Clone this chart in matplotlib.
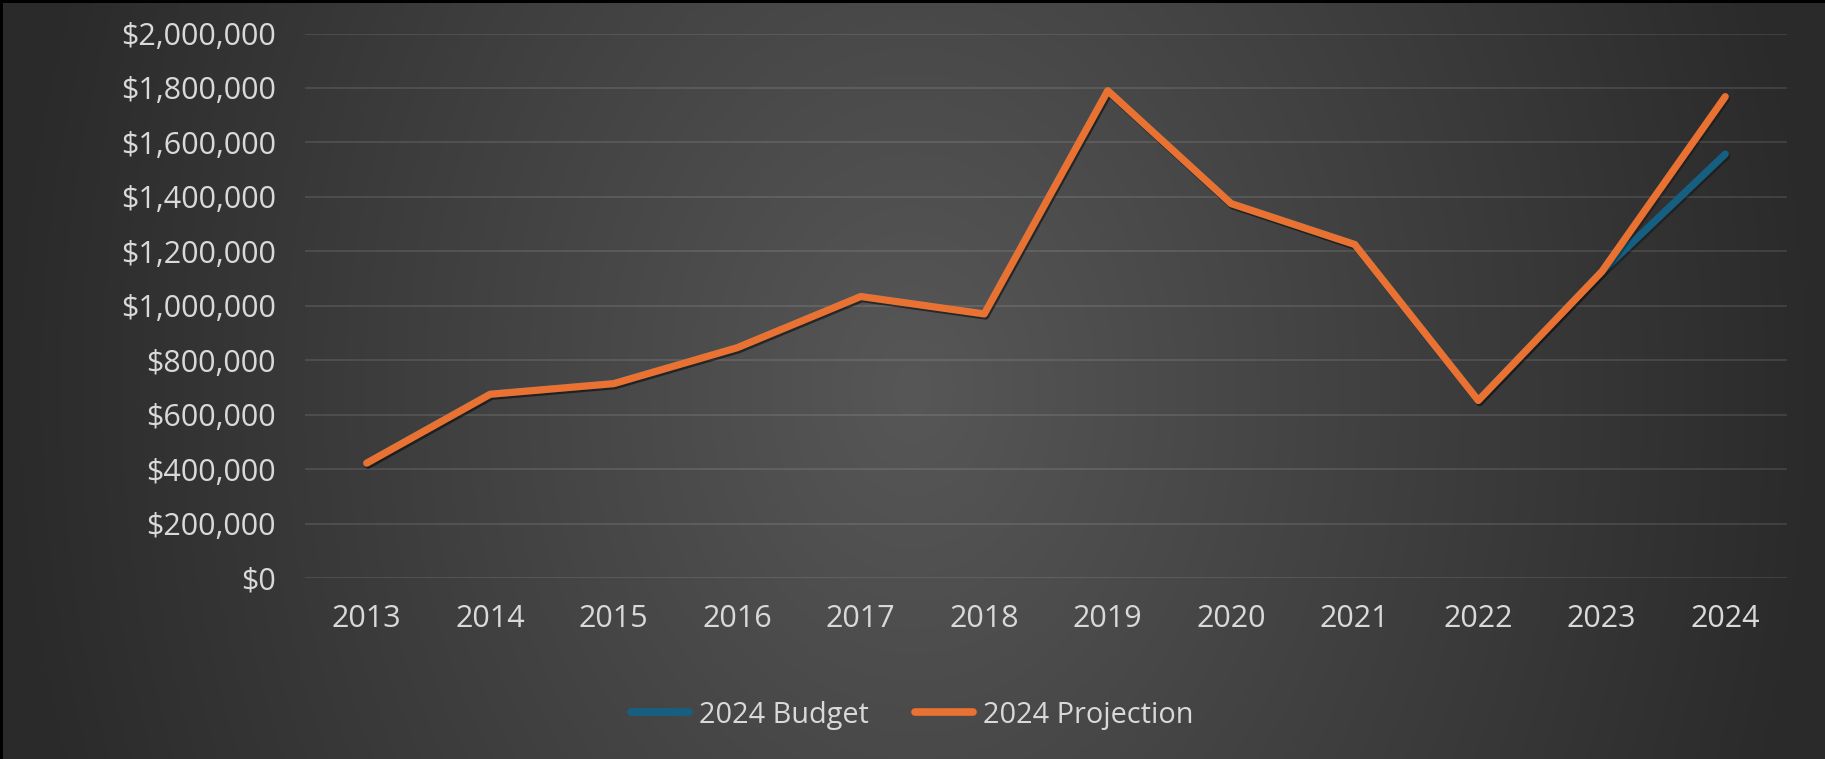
import numpy as np
import matplotlib
matplotlib.use("Agg")
import matplotlib.pyplot as plt
import matplotlib.patheffects as pe
from matplotlib.ticker import FuncFormatter, MultipleLocator

# Chart data
years = ["2013", "2014", "2015", "2016", "2017", "2018",
         "2019", "2020", "2021", "2022", "2023", "2024"]
budget_2024 = [422000, 675000, 714000, 846000, 1034000, 970000,
               1790000, 1375000, 1225000, 652000, 1125000, 1557000]
projection_2024 = [422000, 675000, 714000, 846000, 1034000, 970000,
                   1790000, 1375000, 1225000, 652000, 1125000, 1768000]
series_names = ["2024 Budget", "2024 Projection"]
series_colors = ["#156082", "#E97132"]

W, H, DPI = 1825, 759, 100
plt.rcParams["font.family"] = ["Open Sans", "DejaVu Sans"]
text_color = "#D9D9D9"

fig = plt.figure(figsize=(W / DPI, H / DPI), dpi=DPI)

# Background: dark charcoal with a soft light glow in the middle
bg_ax = fig.add_axes([0, 0, 1, 1], zorder=-10)
yy, xx = np.mgrid[0:H, 0:W]
dx = (xx - W / 2) / (W / 2)
dy = (yy - 390) / (H / 2)
r = np.sqrt(dx ** 2 + (0.32 * dy) ** 2)
shade = 42 + 45 * np.clip(1 - r, 0, 1)
img = np.dstack([shade, shade, shade]) / 255.0
img[:3, :, :] = 0.0
img[:, :3, :] = 0.0
bg_ax.imshow(img, aspect="auto", interpolation="bilinear")
bg_ax.set_axis_off()

ax = fig.add_axes([305 / W, 1 - 578 / H, (1787 - 305) / W, (578 - 33.5) / H])
ax.set_facecolor("none")

x = np.arange(len(years))
shadow = [pe.SimpleLineShadow(offset=(1.0, -1.5), shadow_color="black", alpha=0.3),
          pe.Normal()]
for vals, name, col in zip([budget_2024, projection_2024], series_names, series_colors):
    ax.plot(x, vals, color=col, lw=5.2, label=name,
            solid_capstyle="round", solid_joinstyle="round",
            path_effects=shadow, zorder=3)

ax.set_xlim(-0.5, len(years) - 0.5)
ax.set_ylim(0, 2000000)
ax.yaxis.set_major_locator(MultipleLocator(200000))
ax.yaxis.set_major_formatter(FuncFormatter(lambda v, p: f"${v:,.0f}"))
ax.set_xticks(x)
ax.set_xticklabels(years)

ax.grid(axis="y", color="white", alpha=0.1, lw=1.5, zorder=0)
ax.set_axisbelow(True)
for s in ax.spines.values():
    s.set_visible(False)
ax.tick_params(axis="both", length=0, labelsize=22, colors=text_color)
ax.tick_params(axis="y", pad=21)
ax.tick_params(axis="x", pad=19)

leg = fig.legend(loc="center", bbox_to_anchor=(0.5, 1 - 715 / H), ncol=2,
                 frameon=False, fontsize=20.8, handlelength=2.0,
                 handletextpad=0.35, columnspacing=1.6)
for t in leg.get_texts():
    t.set_color(text_color)
for h in leg.get_lines():
    h.set_linewidth(5.5)
    h.set_solid_capstyle("round")
    h.set_path_effects([])

fig.savefig("out.png", dpi=DPI)
